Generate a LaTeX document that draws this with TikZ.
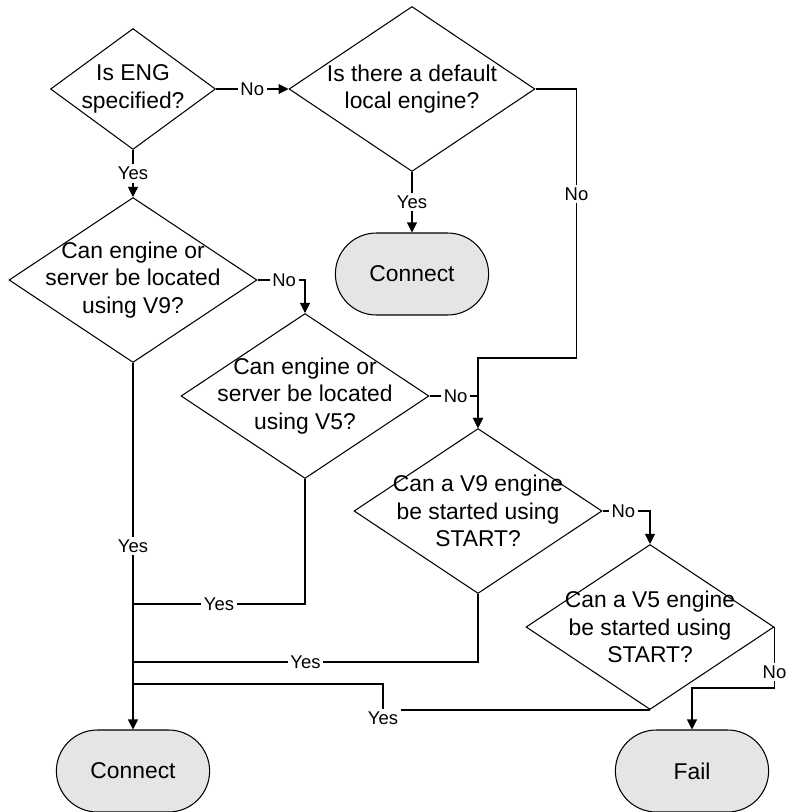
\documentclass[tikz,border=0pt]{standalone}
\usepackage{fontspec}
\setmainfont{Liberation Sans}
\usetikzlibrary{arrows.meta,shapes.geometric,shapes.misc}

\begin{document}
\begin{tikzpicture}[
  x=0.02cm, y=-0.02cm,
  dec/.style={
    diamond, draw, line width=0.6pt, inner sep=0pt,
    minimum width=4.96cm, minimum height=3.3cm
  },
  qtxt/.style={align=center, inner sep=0pt, font=\fontsize{13}{15.6}\selectfont},
  term/.style={
    rounded rectangle, draw, line width=0.6pt, fill=gray!20,
    minimum width=3.3cm, minimum height=1.64cm,
    font=\fontsize{13}{15.6}\selectfont
  },
  flow/.style={-{Triangle[length=2mm,width=2mm]}, line width=0.6pt},
  wire/.style={line width=0.6pt},
  lbl/.style={fill=white, inner sep=1.5pt, font=\fontsize{10.5}{12}\selectfont}
]
  \useasboundingbox (0,0) rectangle (786,812);
  \node[dec, minimum width=3.3cm, minimum height=2.42cm,
    label={[qtxt]center:{Is ENG\\specified?}}] (eng) at (133,89) {};
  \node[dec, minimum width=4.92cm,
    label={[qtxt]center:{Is there a default\\local engine?}}] (dflt) at (412,89) {};
  \node[dec, label={[qtxt]center:{Can engine or\\server be located\\using V9?}}] (v9loc) at (133,280) {};
  \node[dec, label={[qtxt]center:{Can engine or\\server be located\\using V5?}}] (v5loc) at (305,396) {};
  \node[dec, label={[qtxt]center:{Can a V9 engine\\be started using\\START?}}] (v9start) at (478,511) {};
  \node[dec, label={[qtxt]center:{Can a V5 engine\\be started using\\START?}}] (v5start) at (650,627) {};
  \node[term] (conn1) at (412,274) {Connect};
  \node[term] (conn2) at (133,771) {Connect};
  \node[term] (fail) at (692,771) {Fail};
  \coordinate (j1) at (133,604);
  \coordinate (j2) at (133,662);
  \coordinate (j3) at (133,684);
  \coordinate (k3) at (383,684);

  \draw[flow] (eng.east) -- node[lbl]{No} (dflt.west);
  \draw[flow] (eng.south) -- node[lbl]{Yes} (v9loc.north);
  \draw[flow] (dflt.south) -- node[lbl]{Yes} (conn1.north);
  \draw[flow] (dflt.east) -- ++(41,0) -- node[lbl,pos=0.39]{No} ++(0,269) -| (v9start.north);
  \draw[flow] (v9loc.east) -| node[lbl,pos=0.28]{No} (v5loc.north);
  \draw[flow] (v5loc.east) -| node[lbl,pos=0.27]{No} (v9start.north);
  \draw[flow] (v9start.east) -| node[lbl,pos=0.22]{No} (v5start.north);
  \draw[flow] (v5start.east) -- node[lbl,pos=0.74]{No} ++(0,61) -| (fail.north);
  \draw[flow] (v9loc.south) -- node[lbl]{Yes} (conn2.north);
  \draw[wire] (v5loc.south) |- node[lbl,pos=0.75]{Yes} (j1);
  \draw[wire] (v9start.south) |- node[lbl,pos=0.75]{Yes} (j2);
  \draw[wire] (v5start.south) -| node[lbl,pos=0.5,yshift=-4.5pt]{Yes} (k3) -- (j3);
\end{tikzpicture}
\end{document}
